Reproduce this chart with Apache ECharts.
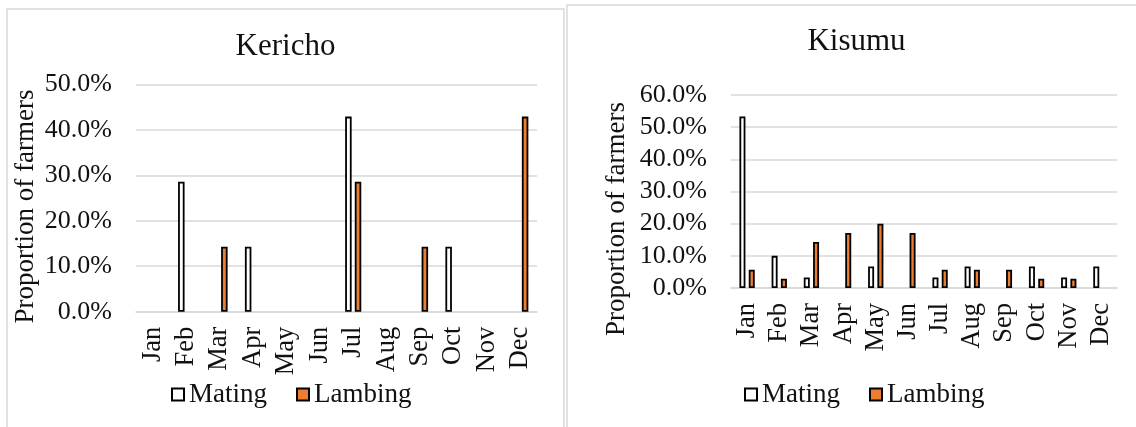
<!DOCTYPE html>
<html>
<head>
<meta charset="utf-8">
<title>Mating and lambing months</title>
<script src="https://cdn.jsdelivr.net/npm/echarts@6/dist/echarts.min.js"></script>
<style>
  html, body { margin: 0; padding: 0; background: #fff; }
  #chart { width: 1136px; height: 427px; }
</style>
</head>
<body>
<div id="chart"></div>
<script>
// Month categories shared by both panels
const months = ['Jan', 'Feb', 'Mar', 'Apr', 'May', 'Jun', 'Jul', 'Aug', 'Sep', 'Oct', 'Nov', 'Dec'];

// Kericho: proportion of farmers (%) per month
const kerichoMating  = [0, 28.6, 0, 14.3, 0, 0, 42.9, 0, 0, 14.3, 0, 0];
const kerichoLambing = [0, 0, 14.3, 0, 0, 0, 28.6, 0, 14.3, 0, 0, 42.9];

// Kisumu: proportion of farmers (%) per month
const kisumuMating  = [53.3, 10.0, 3.3, 0, 6.7, 0, 3.3, 6.7, 0, 6.7, 3.3, 6.7];
const kisumuLambing = [5.7, 2.9, 14.3, 17.1, 20.0, 17.1, 5.7, 5.7, 5.7, 2.9, 2.9, 0];

// Value-axis ticks (%)
const kerichoTicks = [0, 10, 20, 30, 40, 50];
const kisumuTicks  = [0, 10, 20, 30, 40, 50, 60];

const FONT = '"Liberation Serif", "Times New Roman", serif';
const TEXT = '#111';
const GRID = '#d9d9d9';
const ORANGE = '#ED7D31';

// zero months are left empty so no stroke is drawn on the baseline
const bars = arr => arr.map(v => (v === 0 ? null : v));

function valueAxis(ticks, gridIndex) {
  return {
    type: 'value',
    gridIndex,
    min: ticks[0],
    max: ticks[ticks.length - 1],
    interval: ticks[1] - ticks[0],
    axisLine: { show: false },
    axisTick: { show: false },
    splitLine: { lineStyle: { color: GRID, width: 1.6 } },
    axisLabel: {
      margin: 24,
      color: TEXT,
      fontFamily: FONT,
      fontSize: 26,
      formatter: v => v.toFixed(1) + '%'
    }
  };
}

function categoryAxis(gridIndex) {
  return {
    type: 'category',
    gridIndex,
    data: months,
    axisLine: { lineStyle: { color: GRID, width: 1.6 } },
    axisTick: { show: false },
    axisLabel: {
      rotate: 90,
      margin: 15,
      interval: 0,
      color: TEXT,
      fontFamily: FONT,
      fontSize: 26.5
    }
  };
}

function barSeries(name, data, idx, width, gap) {
  const fill = name === 'Mating' ? '#ffffff' : ORANGE;
  return {
    name,
    type: 'bar',
    xAxisIndex: idx,
    yAxisIndex: idx,
    data: bars(data),
    barWidth: width,
    barGap: gap,
    itemStyle: { color: fill, borderColor: '#000', borderWidth: 1.8 }
  };
}

function legend(left) {
  return {
    left,
    top: 381,
    padding: 0,
    icon: 'rect',
    itemWidth: 12,
    itemHeight: 12,
    itemGap: 29,
    selectedMode: false,
    textStyle: { color: TEXT, fontFamily: FONT, fontSize: 27 },
    data: ['Mating', 'Lambing']
  };
}

function axisTitle(x, y) {
  return {
    type: 'text',
    x, y,
    rotation: Math.PI / 2,
    silent: true,
    style: {
      text: 'Proportion of farmers',
      fontFamily: FONT,
      fontSize: 27,
      fill: TEXT,
      align: 'center',
      verticalAlign: 'middle'
    }
  };
}

const chart = echarts.init(document.getElementById('chart'), null, { renderer: 'canvas' });

chart.setOption({
  animation: false,
  backgroundColor: '#ffffff',
  title: [
    { text: 'Kericho', left: 285.5, top: 31, padding: 0, textAlign: 'center',
      textStyle: { color: TEXT, fontFamily: FONT, fontSize: 31, fontWeight: 'normal' } },
    { text: 'Kisumu', left: 856.5, top: 26, padding: 0, textAlign: 'center',
      textStyle: { color: TEXT, fontFamily: FONT, fontSize: 31, fontWeight: 'normal' } }
  ],
  legend: [legend(171), legend(744)],
  grid: [
    { left: 136, top: 84.3, width: 401, height: 227.4 },
    { left: 731, top: 95, width: 386, height: 193 }
  ],
  xAxis: [categoryAxis(0), categoryAxis(1)],
  yAxis: [valueAxis(kerichoTicks, 0), valueAxis(kisumuTicks, 1)],
  series: [
    barSeries('Mating', kerichoMating, 0, 6.5, '48%'),
    barSeries('Lambing', kerichoLambing, 0, 6.5, '48%'),
    barSeries('Mating', kisumuMating, 1, 6, '55%'),
    barSeries('Lambing', kisumuLambing, 1, 6, '55%')
  ],
  graphic: [
    // panel frames
    { type: 'rect', silent: true, z: -1,
      shape: { x: 7, y: 9, width: 557, height: 440 },
      style: { fill: 'none', stroke: GRID, lineWidth: 1.5 } },
    { type: 'rect', silent: true, z: -1,
      shape: { x: 567, y: 5, width: 600, height: 440 },
      style: { fill: 'none', stroke: GRID, lineWidth: 1.5 } },
    axisTitle(26, 206.5),
    axisTitle(617, 219)
  ]
});
</script>
</body>
</html>
